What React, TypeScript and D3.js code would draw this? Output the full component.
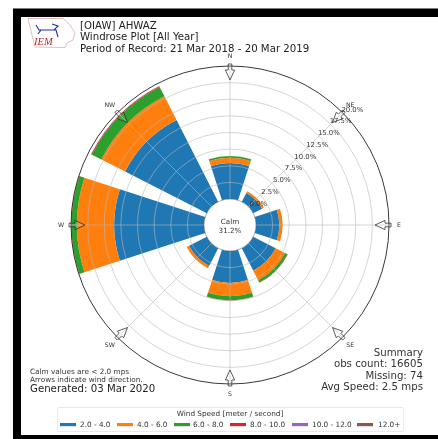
import React from "react";
import * as d3 from "d3";

const directions = ["N", "NE", "E", "SE", "S", "SW", "W", "NW"];
const speedBins = ["2.0 - 4.0", "4.0 - 6.0", "6.0 - 8.0", "8.0 - 10.0", "10.0 - 12.0", "12.0+"];
const binColors = ["#1f77b4", "#ff7f0e", "#2ca02c", "#d62728", "#9467bd", "#8c564b"];
const s2to4 = [5.4, 1.5, 3.5, 3.8, 4.8, 3.0, 13.5, 13.8];
const s4to6 = [0.8, 0.3, 0.5, 1.6, 2.0, 0.4, 5.6, 4.0];
const s6to8 = [0.25, 0, 0, 0.4, 0.6, 0, 0.8, 1.6];
const s8to10 = [0.02, 0, 0, 0.05, 0.05, 0, 0.05, 0.12];
const s10to12 = [0, 0, 0, 0, 0, 0, 0, 0.02];
const s12plus = [0, 0, 0, 0, 0, 0, 0, 0.02];
const binValues = [s2to4, s4to6, s6to8, s8to10, s10to12, s12plus];
const radialTicks = [0, 2.5, 5, 7.5, 10, 12.5, 15, 17.5, 20];
const titleLines = ["[OIAW] AHWAZ", "Windrose Plot [All Year]", "Period of Record: 21 Mar 2018 - 20 Mar 2019"];
const summaryLines = ["Summary", "obs count: 16605", "Missing: 74", "Avg Speed: 2.5 mps"];
const calmPercent = "31.2%";

const cx = 230;
const cy = 225;
const FONT = "'DejaVu Sans', sans-serif";
const deg = Math.PI / 180;
const r = d3.scaleLinear().domain([0, 20]).range([26, 159]);
const angle = d3.scalePoint<string>().domain(directions).range([0, 315]);
const halfWidth = 18;
const arc = d3.arc();
const polar = (a: number, rad: number): [number, number] => [
  cx + rad * Math.sin(a * deg),
  cy - rad * Math.cos(a * deg),
];
const swatchX = [60, 117, 174, 230, 292, 357];
const legendTextX = [80, 137, 193, 250, 312, 378];

function arrowPath(a: number) {
  const pts: [number, number][] = [
    [0, 145],
    [4.6, 155],
    [1.8, 155],
    [1.8, 161],
    [-1.8, 161],
    [-1.8, 155],
    [-4.6, 155],
  ];
  const sin = Math.sin(a * deg);
  const cos = Math.cos(a * deg);
  return (
    d3.line()(
      pts.map(([u, v]) => [cx + v * sin + u * cos, cy - v * cos + u * sin] as [number, number])
    ) + "Z"
  );
}

export default function App() {
  const wedges = directions.flatMap((d, i) => {
    let acc = 0;
    return binValues.map((vals, b) => {
      const start = acc;
      acc += vals[i];
      if (vals[i] <= 0) return null;
      const a = angle(d)!;
      return (
        <path
          key={d + b}
          transform={`translate(${cx},${cy})`}
          d={
            arc({
              innerRadius: r(start),
              outerRadius: r(acc),
              startAngle: (a - halfWidth) * deg,
              endAngle: (a + halfWidth) * deg,
            }) as string
          }
          fill={binColors[b]}
        />
      );
    });
  });

  return (
    <svg
      width={438}
      height={439}
      style={{ position: "absolute", left: 0, top: 0, filter: "blur(0.45px)", background: "#fff" }}
      fontFamily={FONT}
    >
      <rect x={0} y={0} width={438} height={439} fill="#fff" />
      <rect x={13} y={8.5} width={425} height={431} fill="#000" />
      <rect x={21} y={17} width={417} height={418} fill="#fff" />

      {/* logo */}
      <g>
        <path
          d="M28,18.5 L63,18.5 L70,25 L75,33 L73,40 L67,43 L65,47.5 L35,47 L32,35 Z"
          fill="none"
          stroke="#d9a0a0"
          strokeWidth={0.7}
        />
        <path d="M36,25 L39,30 L56,30 L58,37 M41,30 L38,34 M52,24 L58,26 L54,30" fill="none" stroke="#1c2fa8" strokeWidth={1.1} />
        <text x={34} y={45} fontFamily="'Liberation Serif', serif" fontStyle="italic" fontSize={10.5} fill="#b03030">
          IEM
        </text>
      </g>

      {titleLines.map((t, i) => (
        <text key={t} x={80} y={[28.5, 40, 51.5][i]} fontSize={10.2} fill="#222">
          {t}
        </text>
      ))}

      {wedges}

      {/* grid */}
      {radialTicks.slice(1, -1).map((t) => (
        <circle key={t} cx={cx} cy={cy} r={r(t)} fill="none" stroke="#b8b8b8" strokeOpacity={0.85} strokeWidth={0.7} />
      ))}
      {directions.map((d) => {
        const a = angle(d)!;
        const [x1, y1] = polar(a, r(0));
        const [x2, y2] = polar(a, r(20));
        return <line key={d} x1={x1} y1={y1} x2={x2} y2={y2} stroke="#b8b8b8" strokeOpacity={0.85} strokeWidth={0.7} />;
      })}
      <circle cx={cx} cy={cy} r={r(20)} fill="none" stroke="#222" strokeWidth={0.9} />
      <circle cx={cx} cy={cy} r={r(0)} fill="#fff" stroke="#555" strokeWidth={0.5} />

      {/* arrows */}
      {directions.map((d) => (
        <path key={d} d={arrowPath(angle(d)!)} fill="#fff" fillOpacity={0.1} stroke="#333" strokeWidth={0.8} />
      ))}

      {/* compass labels */}
      {directions.map((d) => {
        const a = angle(d)!;
        const [x, y] = polar(a, a % 90 === 0 ? 169 : 170);
        return (
          <text key={d} x={x} y={y} dy="0.35em" textAnchor="middle" fontSize={6.2} fill="#333">
            {d}
          </text>
        );
      })}

      {/* radial labels */}
      {radialTicks.map((t) => {
        const step = (r(t) - r(0)) / Math.SQRT2;
        return (
          <text key={t} x={cx + 28.3 + step} y={cy - 21.7 - step} dy="0.35em" textAnchor="middle" fontSize={6.9} fill="#333">
            {t.toFixed(1)}%
          </text>
        );
      })}

      <text x={cx} y={221} dy="0.35em" textAnchor="middle" fontSize={7.2} fill="#333">
        Calm
      </text>
      <text x={cx} y={230} dy="0.35em" textAnchor="middle" fontSize={7.2} fill="#333">
        {calmPercent}
      </text>

      {summaryLines.map((t, i) => (
        <text key={t} x={423} y={[355.5, 367, 378.5, 389.5][i]} textAnchor="end" fontSize={10.2} fill="#333">
          {t}
        </text>
      ))}

      <text x={30} y={373.5} fontSize={7.3} fill="#333">
        Calm values are &lt; 2.0 mps
      </text>
      <text x={30} y={381.5} fontSize={7.3} fill="#333">
        Arrows indicate wind direction.
      </text>
      <text x={30} y={392} fontSize={10.2} fill="#222">
        Generated: 03 Mar 2020
      </text>

      {/* legend */}
      <rect x={57.5} y={407.5} width={346} height={24} rx={1.5} fill="#fff" stroke="#e0e0e0" strokeWidth={0.7} />
      <text x={230} y={415.5} textAnchor="middle" fontSize={7.3} fill="#333">
        Wind Speed [meter / second]
      </text>
      {speedBins.map((b, i) => (
        <g key={b}>
          <rect x={swatchX[i]} y={423} width={16} height={3.2} fill={binColors[i]} />
          <text x={legendTextX[i]} y={427} fontSize={7.3} fill="#333">
            {b}
          </text>
        </g>
      ))}
    </svg>
  );
}
